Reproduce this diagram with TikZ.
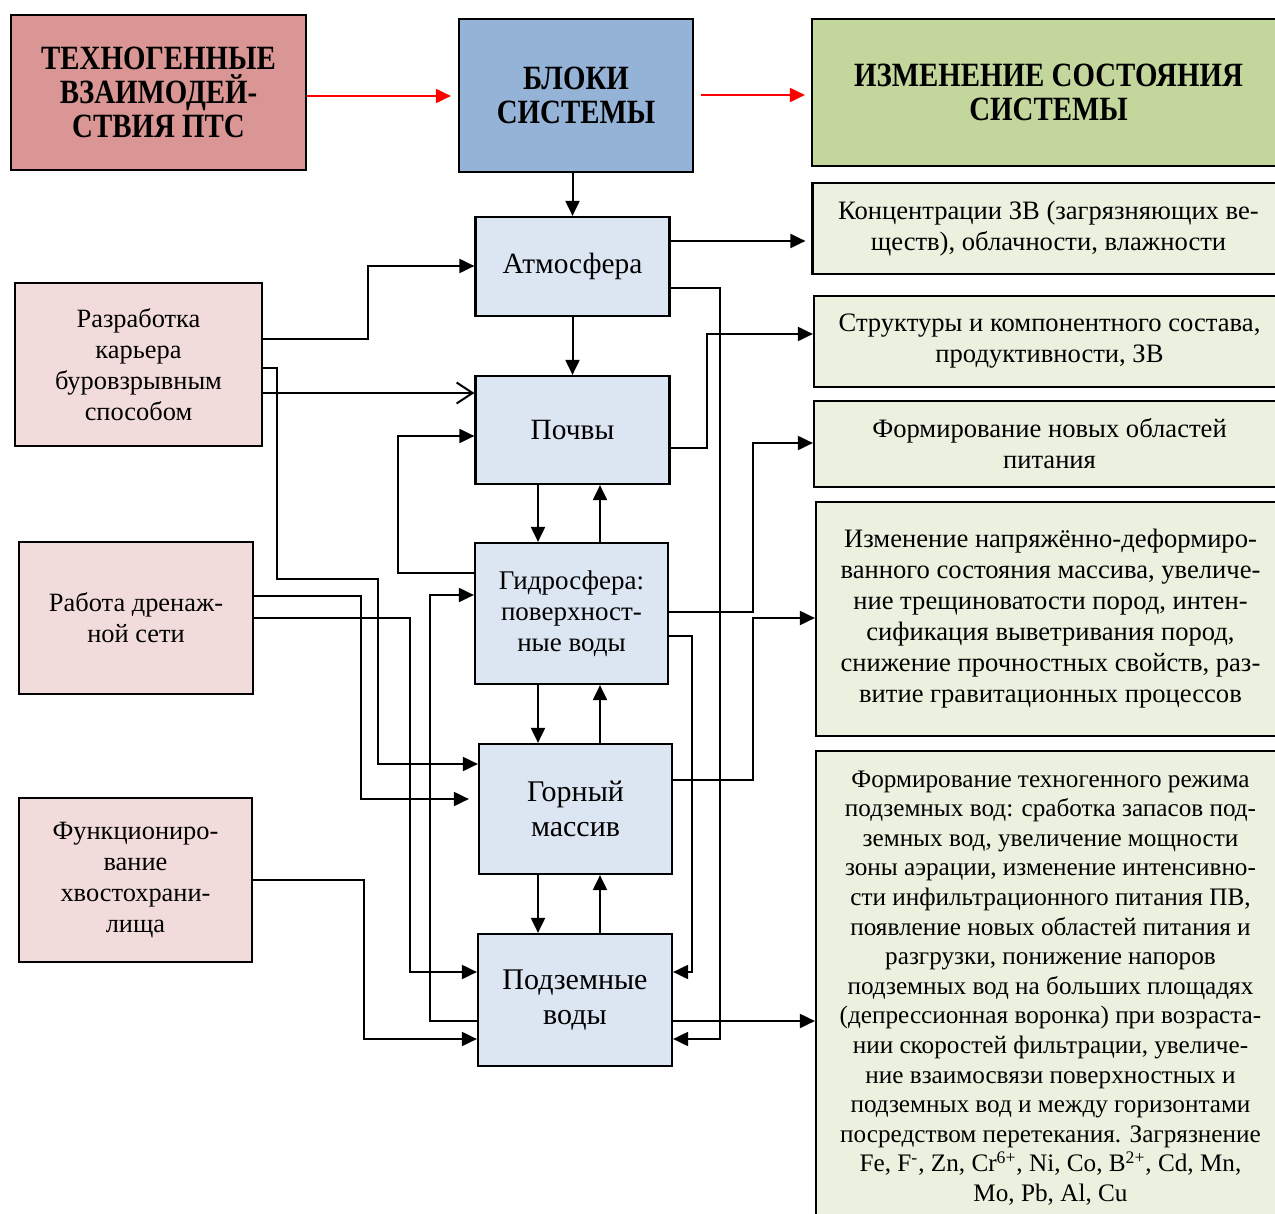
\documentclass[tikz,border=0pt]{standalone}
\usepackage{fontspec}
\setmainfont{Liberation Serif}
\newfontfamily\headfont[FakeStretch=0.85]{Liberation Serif}
\usetikzlibrary{arrows.meta}
\definecolor{techred}{HTML}{D99694}
\definecolor{blockblue}{HTML}{95B3D7}
\definecolor{changegreen}{HTML}{C3D69B}
\definecolor{unitblue}{HTML}{DCE6F2}
\definecolor{causepink}{HTML}{F2DCDB}
\definecolor{resgreen}{HTML}{EBF1DE}
\tikzset{
  box/.style={draw=black, line width=1.1pt, align=center, inner sep=2pt},
  head/.style={box, font=\headfont\bfseries\fontsize{17}{17}\selectfont},
  unit/.style={box, fill=unitblue, minimum width=97pt, font=\fontsize{13.5}{15.5}\selectfont},
  cause/.style={box, fill=causepink, font=\fontsize{13.2}{15.5}\selectfont},
  result/.style={box, fill=resgreen, minimum width=236pt, font=\fontsize{13.3}{15.5}\selectfont},
  con/.style={draw, line width=1pt, -{Triangle[length=7.5pt,width=7pt]}},
  redarr/.style={draw=red, line width=1pt, -{Triangle[length=7.5pt,width=7pt]}}
}
\begin{document}
\begin{tikzpicture}[x=0.5pt, y=-0.5pt]
  \useasboundingbox (0,0) rectangle (1275,1214);
  % headers
  \node[head, fill=techred, minimum width=147.5pt, minimum height=77.5pt] (tech) at (158.5,92.5) {ТЕХНОГЕННЫЕ\\ВЗАИМОДЕЙ-\\СТВИЯ ПТС};
  \node[head, fill=blockblue, minimum width=117pt, minimum height=76.5pt] (blocks) at (576,95.5) {БЛОКИ\\СИСТЕМЫ};
  \node[head, fill=changegreen, minimum width=236.5pt, minimum height=73.5pt] (change) at (1048.5,92.5) {ИЗМЕНЕНИЕ СОСТОЯНИЯ\\СИСТЕМЫ};
  % system blocks
  \node[unit, minimum height=49.5pt, font=\fontsize{14.7}{16.5}\selectfont] (atm) at (572.5,266.5) {Атмосфера};
  \node[unit, minimum height=54pt, font=\fontsize{14.7}{16.5}\selectfont] (soil) at (572.5,430) {Почвы};
  \node[unit, minimum width=96.5pt, minimum height=70.5pt] (hydro) at (571.5,613.5) {Гидросфера:\\поверхност-\\ные воды};
  \node[unit, minimum width=96.5pt, minimum height=65pt, font=\fontsize{15}{17.5}\selectfont] (rock) at (575.5,809) {Горный\\массив};
  \node[unit, minimum height=66pt, font=\fontsize{15}{17.5}\selectfont] (ground) at (575,1000) {Подземные\\воды};
  % causes
  \node[cause, minimum width=123.5pt, minimum height=81.5pt] (razr) at (138.5,364.5) {Разработка\\карьера\\буровзрывным\\способом};
  \node[cause, minimum width=117pt, minimum height=76pt] (drain) at (136,618) {Работа дренаж-\\ной сети};
  \node[cause, minimum width=116.5pt, minimum height=82pt] (tail) at (135.5,880) {Функциониро-\\вание\\хвостохрани-\\лища};
  % results
  \node[result, minimum height=45.5pt] (r1) at (1048.5,228.5) {Концентрации ЗВ (загрязняющих ве-\\ществ), облачности, влажности};
  \node[result, minimum width=235.5pt, minimum height=45.5pt] (r2) at (1049.5,341.5) {Структуры и компонентного состава,\\продуктивности, ЗВ};
  \node[result, minimum width=235.5pt, minimum height=43pt] (r3) at (1049.5,444) {Формирование новых областей\\питания};
  \node[result, minimum width=234.5pt, minimum height=117pt] (r4) at (1050.5,619) {Изменение напряжённо-деформиро-\\ванного состояния массива, увеличе-\\ние трещиноватости  пород, интен-\\сификация выветривания пород,\\снижение прочностных свойств, раз-\\витие гравитационных процессов};
  \node[result, minimum width=234.5pt, minimum height=237pt, font=\fontsize{12.6}{14.8}\selectfont] (r5) at (1050.5,988) {Формирование техногенного режима\\подземных вод: сработка запасов под-\\земных вод, увеличение мощности\\зоны аэрации, изменение интенсивно-\\сти инфильтрационного питания ПВ,\\появление новых  областей  питания  и\\разгрузки, понижение напоров\\подземных вод на больших  площадях\\(депрессионная воронка) при возраста-\\нии  скоростей  фильтрации, увеличе-\\ние  взаимосвязи  поверхностных  и\\подземных вод и между горизонтами\\посредством перетекания. Загрязнение\\Fe, F\textsuperscript{-}, Zn, Cr\textsuperscript{6+},  Ni, Co, B\textsuperscript{2+}, Cd, Mn,\\Mo, Pb, Al, Cu};
  % top row
  \draw[redarr, shorten >=3.5pt] (tech.east |- 0,96) -- (blocks.west |- 0,96);
  \draw[redarr, shorten <=3.5pt, shorten >=3pt] (blocks.east |- 0,95) -- (change.west |- 0,95);
  % chain of blocks
  \draw[con] (blocks.south -| atm.north) -- (atm.north);
  \draw[con] (atm.south) -- (soil.north);
  \draw[con] (soil.south -| 538,0) -- (hydro.north -| 538,0);
  \draw[con] (hydro.north -| 600,0) -- (soil.south -| 600,0);
  \draw[con] (hydro.south -| 538,0) -- (rock.north -| 538,0);
  \draw[con] (rock.north -| 600,0) -- (hydro.south -| 600,0);
  \draw[con] (rock.south -| 538,0) -- (ground.north -| 538,0);
  \draw[con] (ground.north -| 600,0) -- (rock.south -| 600,0);
  % causes to blocks
  \draw[con] (razr.east |- 0,339) -| (368,266) -- (atm.west |- 0,266);
  \draw[line width=1pt, -{Straight Barb[length=8pt,width=10.5pt]}] (razr.east |- 0,393) -- (soil.west |- 0,393);
  \draw[con] (razr.east |- 0,368) -- (277,368) |- (378,579) |- (rock.west |- 0,764);
  \draw[con, shorten >=4.5pt] (drain.east |- 0,596) -| (361,799) -- (rock.west |- 0,799);
  \draw[con] (drain.east |- 0,618) -| (410,972) -- (ground.west |- 0,972);
  \draw[con] (tail.east |- 0,880) -| (364,1039) -- (ground.west |- 0,1039);
  % feedback between blocks
  \draw[con] (hydro.west |- 0,573) -| (398,436) -- (soil.west |- 0,436);
  \draw[con] (ground.west |- 0,1021) -| (430,595) -- (hydro.west |- 0,595);
  \draw[con] (atm.east |- 0,288) -| (720,1039) -- (ground.east |- 0,1039);
  \draw[con] (hydro.east |- 0,636) -| (692,972) -- (ground.east |- 0,972);
  % blocks to results
  \draw[con, shorten >=3pt] (atm.east |- 0,241) -- (r1.west |- 0,241);
  \draw[con] (soil.east |- 0,448) -| (707,334) -- (r2.west |- 0,334);
  \draw[con] (hydro.east |- 0,612) -| (753,443) -- (r3.west |- 0,443);
  \draw[con] (rock.east |- 0,780) -| (753,618) -- (r4.west |- 0,618);
  \draw[con] (ground.east |- 0,1021) -- (r5.west |- 0,1021);
\end{tikzpicture}
\end{document}
